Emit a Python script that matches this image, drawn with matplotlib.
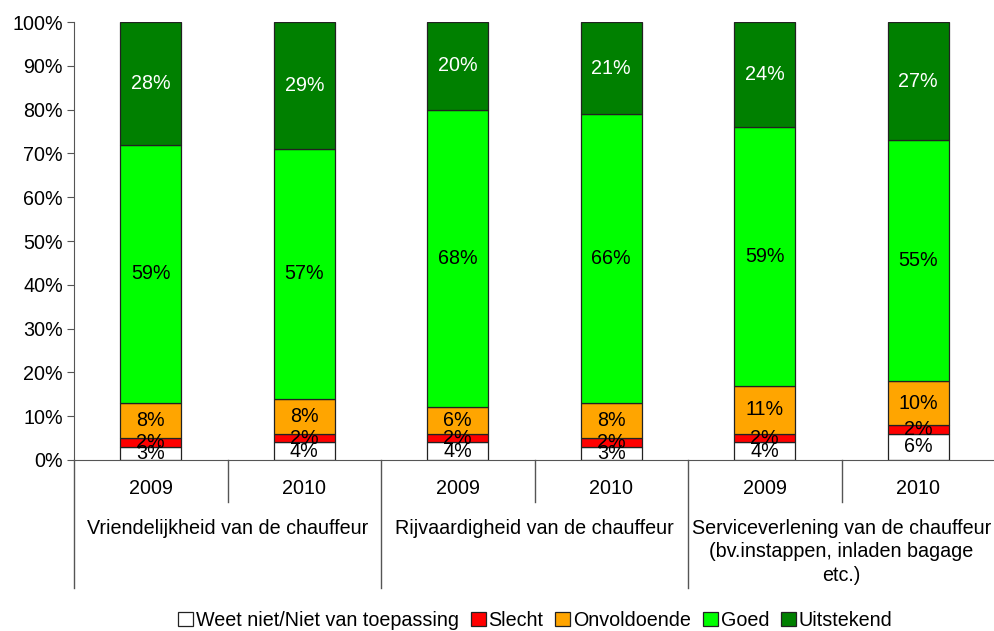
import numpy as np
import matplotlib.pyplot as plt
import matplotlib.transforms as mtransforms

plt.rcParams['font.family'] = ['Liberation Sans', 'DejaVu Sans']

years = ['2009', '2010', '2009', '2010', '2009', '2010']
groups = ['Vriendelijkheid van de chauffeur',
          'Rijvaardigheid van de chauffeur',
          'Serviceverlening van de chauffeur\n(bv.instappen, inladen bagage\netc.)']
series = ['Weet niet/Niet van toepassing', 'Slecht', 'Onvoldoende', 'Goed', 'Uitstekend']
weet_niet = [3, 4, 4, 3, 4, 6]
slecht = [2, 2, 2, 2, 2, 2]
onvoldoende = [8, 8, 6, 8, 11, 10]
goed = [59, 57, 68, 66, 59, 55]
uitstekend = [28, 29, 20, 21, 24, 27]
colors = ['#FFFFFF', '#FF0000', '#FFA500', '#00FF00', '#008000']
text_colors = ['#000000', '#000000', '#000000', '#000000', '#FFFFFF']

fs = 14.2

fig = plt.figure(figsize=(9.95, 6.31), dpi=100)
ax = fig.add_axes([0.0744, 0.271, 0.9256, 0.694])

x = np.arange(len(years))
bottom = np.zeros(len(years))
for vals, col, tc, name in zip([weet_niet, slecht, onvoldoende, goed, uitstekend],
                                colors, text_colors, series):
    vals = np.array(vals, dtype=float)
    ax.bar(x, vals, 0.4, bottom=bottom, color=col, edgecolor='#222222',
           linewidth=0.9, label=name, zorder=2)
    for xi, b, v in zip(x, bottom, vals):
        ax.text(xi, b + v / 2, f'{int(v)}%', ha='center', va='center',
                fontsize=fs, color=tc, zorder=3)
    bottom += vals

ax.set_xlim(-0.5, 5.5)
ax.set_ylim(0, 100)
ax.set_yticks(np.arange(0, 101, 10))
ax.set_yticklabels([f'{v}%' for v in range(0, 101, 10)], fontsize=fs)
ax.set_xticks([])
ax.tick_params(axis='y', direction='out', length=5, color='#555555', pad=3)
for s in ['top', 'right']:
    ax.spines[s].set_visible(False)
ax.spines['left'].set_color('#555555')
ax.spines['bottom'].set_color('#555555')

trans = mtransforms.blended_transform_factory(ax.transData, ax.transAxes)
for i, b in enumerate(np.arange(-0.5, 6, 1.0)):
    y_end = -0.292 if i % 2 == 0 else -0.096
    ax.plot([b, b], [0, y_end], color='#555555', lw=1, transform=trans, clip_on=False)

for xi, yr in zip(x, years):
    ax.text(xi, -0.066, yr, ha='center', va='center', fontsize=fs, transform=trans)
for gi, g in enumerate(groups):
    ax.text(2 * gi + 0.5, -0.134, g, ha='center', va='top', fontsize=fs,
            transform=trans, linespacing=1.32)

fig.legend(loc='center', bbox_to_anchor=(0.538, 0.017), ncol=5, frameon=False,
           fontsize=fs, handlelength=0.75, handleheight=0.75, handletextpad=0.15,
           columnspacing=0.6, borderaxespad=0)

fig.savefig('out.png', dpi=100)
